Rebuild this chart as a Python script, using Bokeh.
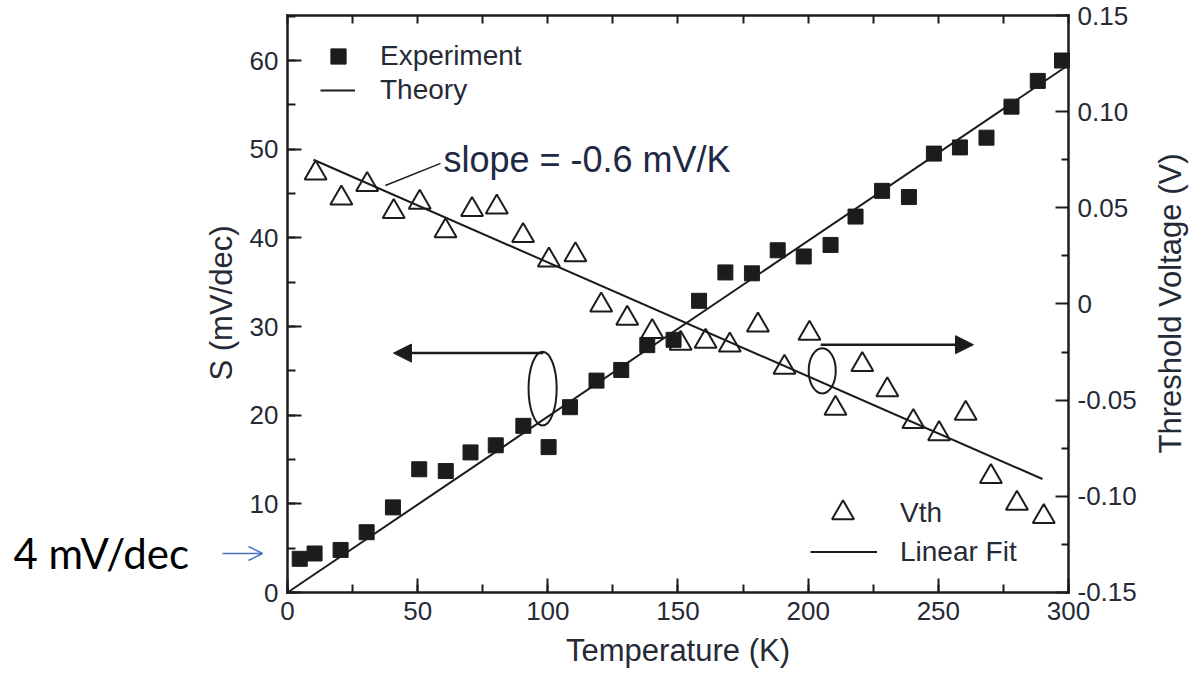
import math
from bokeh.plotting import figure
from bokeh.models import (Range1d, LinearAxis, SingleIntervalTicker, FixedTicker, Legend, LegendItem,
                          Arrow, NormalHead, OpenHead, Label, CustomJSTickFormatter)
from bokeh.embed import file_html
from bokeh.resources import INLINE

# ---- data ----
T_exp = [4.7, 10.4, 20.4, 30.4, 40.5, 50.6, 60.8, 70.3, 80.0, 90.6, 100.3, 108.5, 118.7, 128.2,
         138.2, 148.3, 158.1, 168.2, 178.4, 188.3, 198.3, 208.6, 218.2, 228.4, 238.7, 248.3,
         258.3, 268.5, 278.1, 288.2, 297.5]
S_exp = [3.8, 4.4, 4.8, 6.8, 9.6, 13.9, 13.7, 15.8, 16.6, 18.8, 16.4, 20.9, 23.9, 25.1,
         27.9, 28.5, 32.9, 36.1, 36.0, 38.6, 37.9, 39.2, 42.4, 45.3, 44.6, 49.5,
         50.2, 51.3, 54.8, 57.7, 60.0]

T_theory = [0, 300]
S_theory = [0, 59.5]

T_vth = [10.8, 20.7, 30.6, 40.8, 50.8, 60.7, 70.9, 80.4, 90.5, 100.4, 110.6, 120.5, 130.5,
         140.1, 151.0, 160.6, 169.9, 180.7, 190.9, 200.5, 210.5, 220.8, 230.4, 240.4, 250.3,
         260.5, 270.2, 280.2, 290.5]
V_vth = [0.0680, 0.0550, 0.0620, 0.0480, 0.0528, 0.0380, 0.0490, 0.0503, 0.0355, 0.0228,
         0.0255, -0.0006, -0.0075, -0.0144, -0.0205, -0.0195, -0.0214, -0.0110, -0.0330,
         -0.0153, -0.0543, -0.0315, -0.0447, -0.0612, -0.0675, -0.0569, -0.0898, -0.1037, -0.1106]

T_fit = [10, 290]
V_fit = [0.0750, -0.0910]

# axis extents and ticks
T_MIN, T_MAX = 0, 300
S_MIN, S_MAX = 0, 65.07
V_MIN, V_MAX = -0.15, 0.15
V_ticks = [-0.15, -0.10, -0.05, 0.0, 0.05, 0.10, 0.15]
V_minor = [-0.125, -0.075, -0.025, 0.025, 0.075, 0.125]
T_top_ticks = [0, 25, 50, 75, 100, 125, 150, 175, 200, 225, 250, 275, 300]

FONT = "Liberation Sans"
TXT = "#252a36"
INK = "#1c1c1c"

# The frame covers the whole canvas; the plot box is drawn with axes at fixed locations,
# so that notes and titles outside the box can be placed freely.
p = figure(width=1189, height=674, x_range=Range1d(-110.24, 346.48), y_range=Range1d(-9.248, 66.77),
           output_backend="svg", toolbar_location=None,
           min_border_left=0, min_border_right=0, min_border_top=0, min_border_bottom=0)
p.background_fill_color = "white"
p.border_fill_color = "white"
p.outline_line_color = None
p.xgrid.visible = False
p.ygrid.visible = False
p.extra_y_ranges = {"vth": Range1d(-0.19264, 0.15780)}


def style_axis(ax, major_in, minor_in, label_standoff):
    ax.axis_line_color = INK
    ax.axis_line_width = 2.5
    ax.axis_line_cap = "square"
    ax.major_tick_in = major_in
    ax.major_tick_out = 0
    ax.minor_tick_in = minor_in
    ax.minor_tick_out = 0
    ax.major_tick_line_color = INK
    ax.minor_tick_line_color = INK
    ax.major_tick_line_width = 2
    ax.minor_tick_line_width = 2
    ax.major_label_text_font = FONT
    ax.major_label_text_font_size = "26px"
    ax.major_label_text_color = TXT
    ax.major_label_standoff = label_standoff


xax = p.xaxis[0]
xax.ticker = SingleIntervalTicker(interval=50, num_minor_ticks=2)
xax.fixed_location = S_MIN
xax.bounds = (T_MIN, T_MAX)
style_axis(xax, 14, 8, 9)

yax = p.yaxis[0]
yax.ticker = SingleIntervalTicker(interval=10, num_minor_ticks=2)
yax.fixed_location = T_MIN
yax.bounds = (S_MIN, S_MAX)
style_axis(yax, 14, 8, 9)

rax = LinearAxis(y_range_name="vth", ticker=FixedTicker(ticks=V_ticks, minor_ticks=V_minor),
                 formatter=CustomJSTickFormatter(code="return Math.abs(tick) < 1e-9 ? '0' : tick.toFixed(2);"),
                 fixed_location=T_MAX, bounds=(V_MIN, V_MAX))
style_axis(rax, 13, 7, 9)
p.add_layout(rax, "right")

tax = LinearAxis(ticker=FixedTicker(ticks=[], minor_ticks=T_top_ticks),
                 fixed_location=S_MAX, bounds=(T_MIN, T_MAX))
style_axis(tax, 8, 8, 0)
p.add_layout(tax, "above")

# axis titles
p.add_layout(Label(x=150, y=-6.54, text="Temperature (K)", text_font=FONT, text_font_size="31px",
                   text_color=TXT, text_align="center", text_baseline="alphabetic"))
p.add_layout(Label(x=-25.16, y=32.65, text="S (mV/dec)", text_font=FONT, text_font_size="31px",
                   text_color=TXT, text_align="center", text_baseline="alphabetic", angle=math.pi / 2))
p.add_layout(Label(x=339.0, y=32.6, text="Threshold Voltage (V)", text_font=FONT, text_font_size="31px",
                   text_color=TXT, text_align="center", text_baseline="alphabetic", angle=math.pi / 2))

# ---- data renderers ----
fit = p.line(T_fit, V_fit, y_range_name="vth", line_color=INK, line_width=2)
vth = p.scatter(T_vth, V_vth, y_range_name="vth", marker="triangle", size=22,
                fill_color=None, line_color=INK, line_width=2)
theory = p.line(T_theory, S_theory, line_color=INK, line_width=2)
exp = p.scatter(T_exp, S_exp, marker="square", size=15, fill_color=INK, line_color=INK)


# ---- legends (one entry each, so each symbol gets its own size) ----
def legend(label, renderer, loc, gw, gh, standoff):
    return Legend(items=[LegendItem(label=label, renderers=[renderer])],
                  location=loc, glyph_width=gw, glyph_height=gh, label_height=gh,
                  label_standoff=standoff, spacing=0, padding=0, margin=0,
                  border_line_color=None, background_fill_alpha=0,
                  label_text_font=FONT, label_text_font_size="28px", label_text_color=TXT)


p.add_layout(legend("Experiment", exp, (319, 599), 38, 38, 23))
p.add_layout(legend("Theory", theory, (320, 567), 35, 34, 25))
p.add_layout(legend("Vth", vth, (815, 134), 55, 55, 30))
p.add_layout(legend("Linear Fit", fit, (810, 103), 67, 39, 23))

# ---- annotations ----
p.add_layout(Label(x=59.9, y=48.83, text="slope = -0.6 mV/K", text_font=FONT,
                   text_font_size="36px", text_color="#1f2944", text_baseline="alphabetic"))
p.add_layout(Arrow(end=None, x_start=37.6, y_start=45.9, x_end=58.8, y_end=48.4,
                   line_color=INK, line_width=1.5))

# left-pointing arrow with ellipse (S axis)
p.add_layout(Arrow(end=NormalHead(size=18, fill_color=INK, line_color=INK),
                   x_start=98.3, y_start=27.0, x_end=40.7, y_end=27.0,
                   line_color=INK, line_width=2.5))
p.ellipse(x=[98.0], y=[23.0], width=[10.8], height=[8.35], fill_color=None,
          line_color=INK, line_width=2)

# right-pointing arrow with ellipse (Vth axis)
p.add_layout(Arrow(end=NormalHead(size=18, fill_color=INK, line_color=INK),
                   x_start=204.8, y_start=27.95, x_end=263.5, y_end=27.95,
                   line_color=INK, line_width=2.5))
p.ellipse(x=[205.4], y=[25.0], width=[10.4], height=[5.1], fill_color=None,
          line_color=INK, line_width=2)

# "4 mV/dec" note with blue arrow, left of the axis
p.add_layout(Label(x=-105.25, y=4.5, text="4 mV/dec", text_font="Lato",
                   text_font_size="42px", text_color="black", text_baseline="middle"))
p.add_layout(Arrow(end=OpenHead(size=14, line_color="#4472C4", line_width=1.5),
                   x_start=-24.97, y_start=4.4, x_end=-9.6, y_end=4.4,
                   line_color="#4472C4", line_width=1.5))

open("out.html", "w").write(file_html(p, INLINE))
